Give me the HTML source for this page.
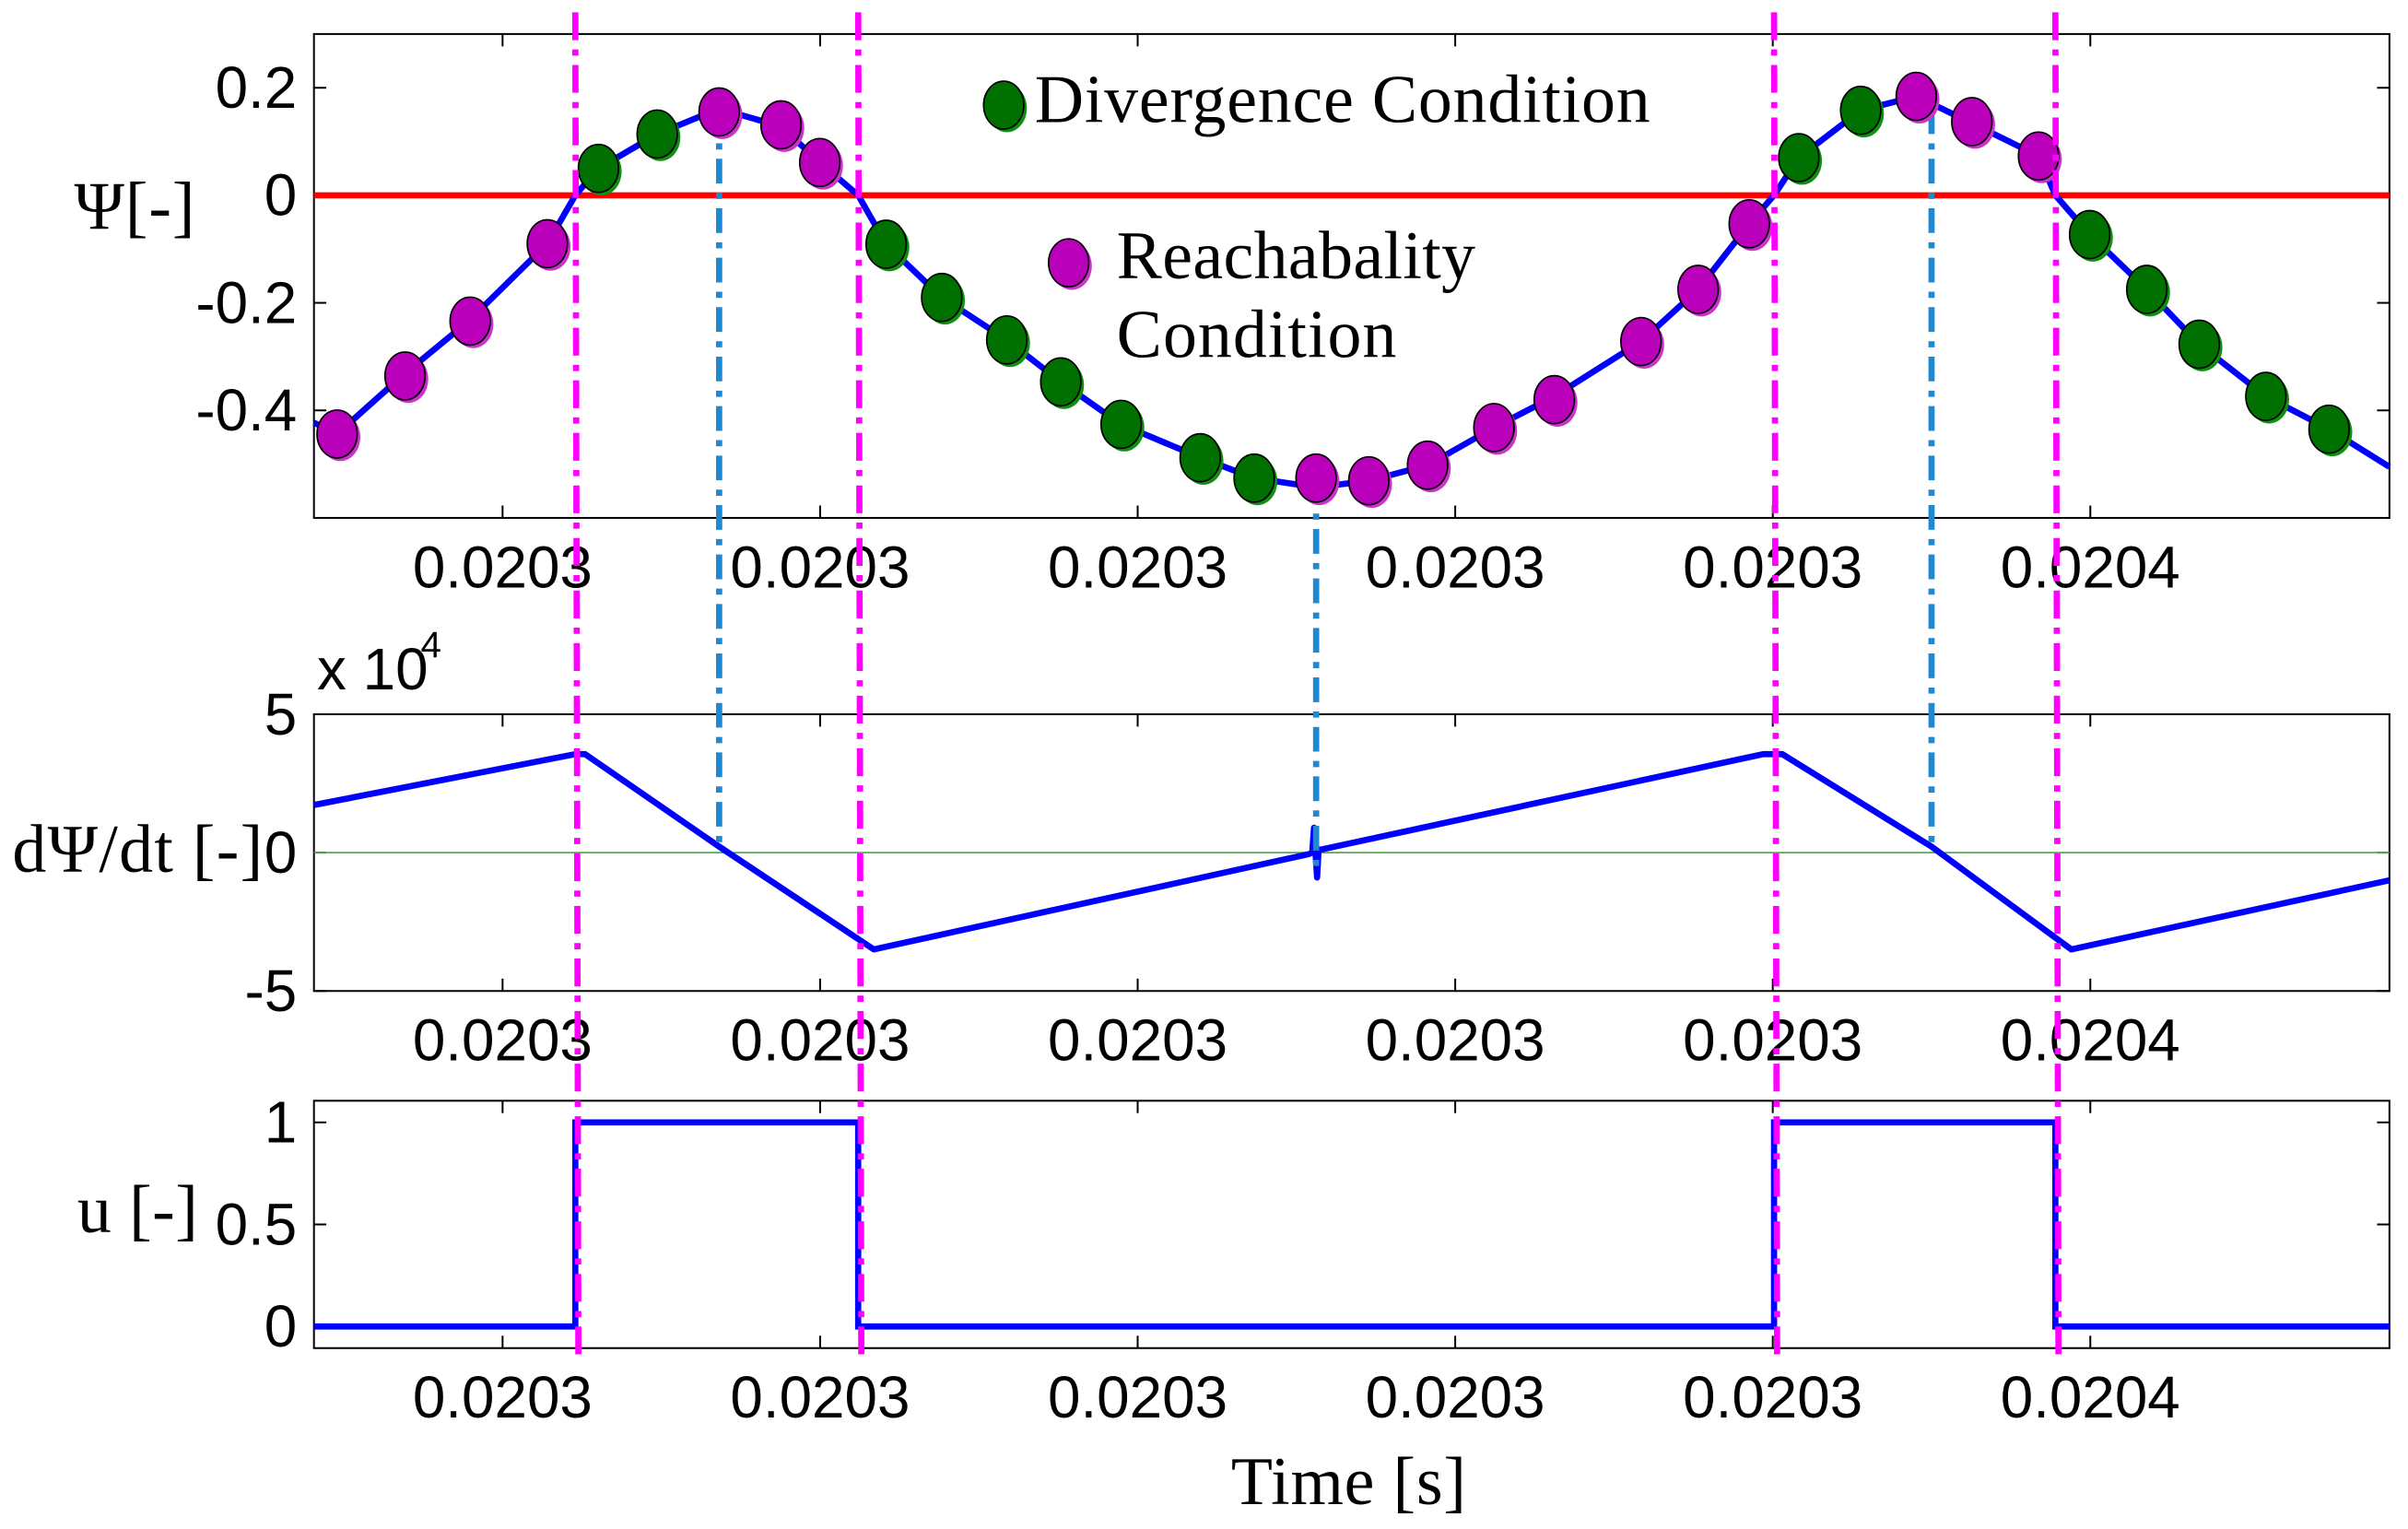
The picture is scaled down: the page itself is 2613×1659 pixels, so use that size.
<!DOCTYPE html>
<html><head><meta charset="utf-8"><style>
html,body{margin:0;padding:0;background:#fff;}
svg{display:block;}
.tk{font-family:"Liberation Sans",sans-serif;font-size:38px;fill:#000;}
.lb{font-family:"Liberation Serif",serif;font-size:44px;fill:#000;}
</style></head><body>
<svg id="chart" width="2613" height="1659" viewBox="0 0 1557 989" preserveAspectRatio="none" xmlns="http://www.w3.org/2000/svg"></svg>
<script>
// ---- data ----
const xTickLabels = ["0.0203","0.0203","0.0203","0.0203","0.0203","0.0204"];
const xTickPos = [1,2,3,4,5,6];
const psiTime = [0.406,0.479,0.683,0.893,1.141,1.229,1.302,1.487,1.682,1.877,1.999,2.120,2.208,2.383,2.588,2.758,2.948,3.197,3.367,3.562,3.728,3.913,4.122,4.312,4.585,4.765,4.926,5.004,5.082,5.277,5.452,5.627,5.837,5.890,5.998,6.178,6.343,6.553,6.752,6.942];
const psiVal = [-0.423,-0.444,-0.336,-0.234,-0.090,0,0.050,0.114,0.161,0.128,0.061,0,-0.091,-0.190,-0.269,-0.347,-0.426,-0.488,-0.526,-0.543,-0.531,-0.502,-0.432,-0.374,-0.272,-0.175,-0.053,0,0.070,0.158,0.184,0.134,0.073,0,-0.073,-0.175,-0.277,-0.374,-0.435,-0.505];
const reachTime = [0.479,0.693,0.898,1.141,1.682,1.877,1.999,3.562,3.728,3.913,4.122,4.312,4.585,4.765,4.926,5.452,5.627,5.837];
const reachVal = [-0.444,-0.336,-0.234,-0.090,0.155,0.131,0.061,-0.526,-0.531,-0.502,-0.432,-0.380,-0.272,-0.175,-0.053,0.184,0.137,0.073];
const divTime = [1.302,1.487,2.208,2.383,2.588,2.758,2.948,3.197,3.367,5.082,5.277,5.998,6.178,6.343,6.553,6.752];
const divVal = [0.050,0.114,-0.091,-0.190,-0.269,-0.347,-0.426,-0.488,-0.526,0.070,0.158,-0.073,-0.175,-0.277,-0.374,-0.435];
const dpsiTime = [0.406,1.229,1.26,1.682,2.169,3.54,3.55,3.555,3.565,3.57,3.58,4.97,5.03,5.50,5.94,6.942];
const dpsiVal = [1.72,3.56,3.56,0.22,-3.5,-0.05,0.0,0.9,-0.9,0.1,0.12,3.56,3.56,0.22,-3.5,-1.0];
const uTime = [0.406,1.229,1.229,2.120,2.120,5.004,5.004,5.890,5.890,6.942];
const uVal = [0,0,1,1,0,0,1,1,0,0];
const switchTimes = [1.229,2.120,5.004,5.890];
const extremaTimes = [1.682,3.562,5.500];
const psiTicks = [0.2,0,-0.2,-0.4];
const psiTickLabels = ["0.2","0","-0.2","-0.4"];
const dpsiTicks = [5,0,-5];
const uTicks = [1,0.5,0];
const uTickLabels = ["1","0.5","0"];

// ---- axes ----
const X0=203,X1=1545, T0=0.406, T1=6.942;
const sx = t => X0 + (t-T0)/(T1-T0)*(X1-X0);
const P = {top:22,bot:335,min:-0.6,max:0.3};
const D = {top:462,bot:641,min:-5,max:5};
const U = {top:712,bot:872,min:-0.106,max:1.106};
const sy = (p,v) => p.bot - (v-p.min)/(p.max-p.min)*(p.bot-p.top);
const svg = document.getElementById('chart');
const NS="http://www.w3.org/2000/svg";
function mk(tag, attrs, parent){const e=document.createElementNS(NS,tag);for(const k in attrs)e.setAttribute(k,attrs[k]);(parent||svg).appendChild(e);return e;}
function txt(s,x,y,cls,anchor){const e=mk('text',{x:x,y:y,class:cls,'text-anchor':anchor||'start'});e.textContent=s;return e;}
function pathFrom(ts,vs,p){return ts.map((t,i)=>(i?'L':'M')+sx(t).toFixed(1)+','+sy(p,vs[i]).toFixed(1)).join(' ');}

function panel(p,name,yt,ytl,labY){
  const g=mk('g',{});
  
  
  mk('rect',{x:X0,y:p.top,width:X1-X0,height:p.bot-p.top,fill:'none',stroke:'#000','stroke-width':1.2},g);
  xTickPos.forEach((t,i)=>{
    const x=sx(t);
    mk('line',{x1:x,x2:x,y1:p.bot,y2:p.bot-8,stroke:'#000','stroke-width':1.2},g);
    mk('line',{x1:x,x2:x,y1:p.top,y2:p.top+8,stroke:'#000','stroke-width':1.2},g);
    const e=txt(xTickLabels[i],x,labY,'tk','middle');
    
    
  });
  yt.forEach((v,i)=>{
    const y=sy(p,v);
    mk('line',{x1:X0,x2:X0+8,y1:y,y2:y,stroke:'#000','stroke-width':1.2},g);
    mk('line',{x1:X1,x2:X1-8,y1:y,y2:y,stroke:'#000','stroke-width':1.2},g);
    const e=txt(ytl[i],192,y+13,'tk','end');
    
    
  });
}
panel(P,'psi',psiTicks,psiTickLabels,380);
panel(D,'dpsi',dpsiTicks,dpsiTicks.map(String),686);
panel(U,'u',uTicks,uTickLabels,917);

// reference lines
let e=mk('line',{x1:X0,x2:X1,y1:sy(P,0),y2:sy(P,0),stroke:'#ff0000','stroke-width':4});


e=mk('line',{x1:X0,x2:X1,y1:sy(D,0),y2:sy(D,0),stroke:'#4caf50','stroke-width':1});



// series
e=mk('path',{d:pathFrom(psiTime,psiVal,P),fill:'none',stroke:'#0000ff','stroke-width':4,'stroke-linejoin':'round'});


e=mk('path',{d:pathFrom(dpsiTime,dpsiVal,D),fill:'none',stroke:'#0000ff','stroke-width':4,'stroke-linejoin':'round'});


e=mk('path',{d:pathFrom(uTime,uVal,U),fill:'none',stroke:'#0000ff','stroke-width':4});



// blue dash-dot lines at extrema
extremaTimes.forEach((t,i)=>{
  const x=sx(t);
  const top = i===1 ? sy(P,psiVal[19])-5 : sy(P,0.16);
  const bot = i===1 ? 562 : 548;
  const l=mk('line',{x1:x,x2:x,y1:top,y2:bot,stroke:'#1e88d0','stroke-width':4,'stroke-dasharray':'16 6 4 6'});
  
  
});

// markers
function marker(t,v,fill,edge){
  const x=sx(t),y=sy(P,v);
  const g=mk('g',{});
  mk('ellipse',{cx:x+2,cy:y+2,rx:13,ry:15.5,fill:edge},g);
  mk('ellipse',{cx:x,cy:y,rx:13,ry:15.5,fill:fill,stroke:'#000','stroke-width':1},g);
  return g;
}
reachTime.forEach((t,i)=>{
  const m=marker(t,reachVal[i],'#bb00bb','#cc33cc');
  
  
});
divTime.forEach((t,i)=>{
  const m=marker(t,divVal[i],'#007000','#109010');
  
  
});

// magenta switching lines
switchTimes.forEach(t=>{
  const x=sx(t);
  const l=mk('line',{x1:x,x2:x+2,y1:8,y2:880,stroke:'#ff00ff','stroke-width':4,'stroke-dasharray':'18 6 4 6'});
  
  
});

// legend
let lg=mk('g',{});


mk('ellipse',{cx:651,cy:70,rx:13,ry:15.5,fill:'#109010'},lg);
mk('ellipse',{cx:649,cy:68,rx:13,ry:15.5,fill:'#007000',stroke:'#000','stroke-width':1},lg);
let t1=txt('Divergence Condition',669,79,'lb');lg.appendChild(t1);
t1.setAttribute('textLength','398');
mk('ellipse',{cx:693,cy:172,rx:13,ry:15.5,fill:'#cc33cc'},lg);
mk('ellipse',{cx:691,cy:170,rx:13,ry:15.5,fill:'#bb00bb',stroke:'#000','stroke-width':1},lg);
let t2=txt('Reachabality',722,180,'lb');lg.appendChild(t2);
t2.setAttribute('textLength','232');
let t3=txt('Condition',722,231,'lb');lg.appendChild(t3);
t3.setAttribute('textLength','181');

// axis labels
e=txt('Ψ[-]',48,148,'lb');
e.setAttribute('textLength','78');


e=txt('dΨ/dt [-]',8,564,'lb');
e.setAttribute('textLength','162');


e=txt('u [-]',50,797,'lb');
e.setAttribute('textLength','78');


e=txt('Time [s]',796,973,'lb');
e.setAttribute('textLength','152');


e=txt('x 10',205,446,'tk');


e=mk('text',{x:272,y:425,class:'tk'});e.textContent='4';
e.setAttribute('style','font-size:24px');


</script>
</body></html>
